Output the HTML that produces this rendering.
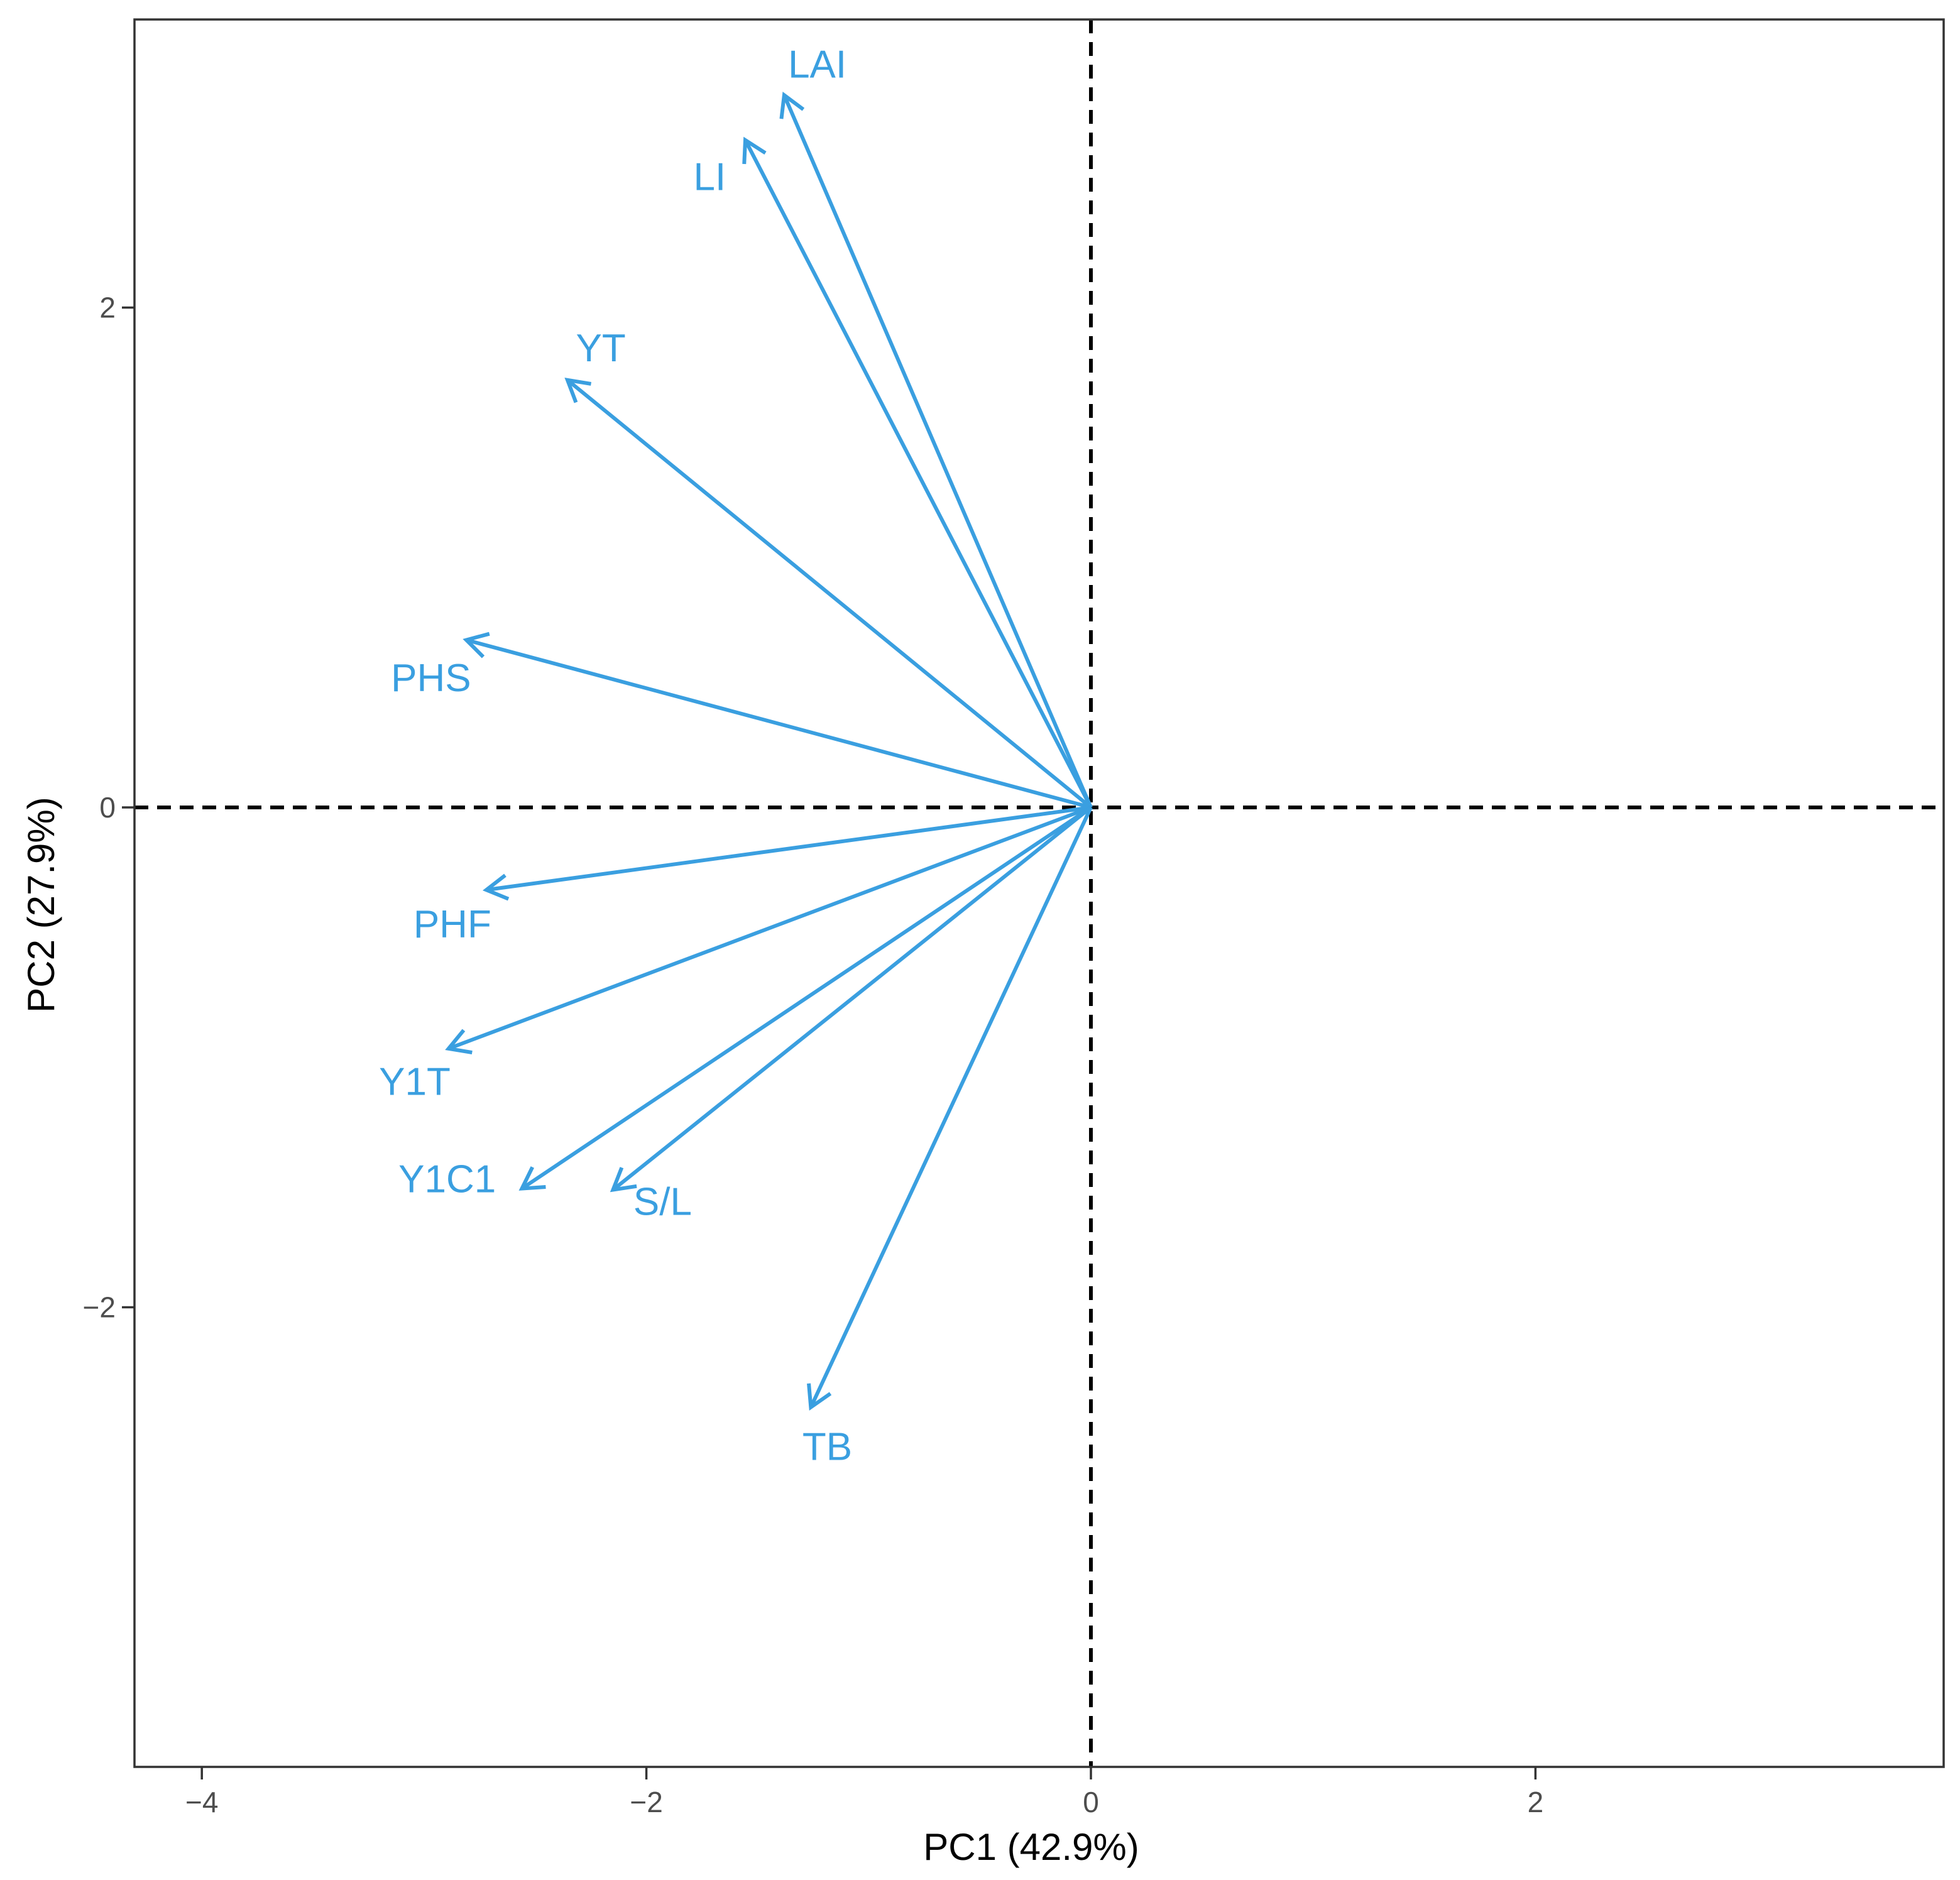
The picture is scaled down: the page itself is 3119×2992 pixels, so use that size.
<!DOCTYPE html>
<html><head><meta charset="utf-8"><style>
html,body{margin:0;padding:0;background:#fff}
svg{display:block}
text{font-family:"Liberation Sans",Arial,sans-serif}
</style></head><body>
<svg id="chart" width="3119" height="2992" viewBox="0 0 3119 2992" xmlns="http://www.w3.org/2000/svg">
<rect x="0" y="0" width="3119" height="2992" fill="#fff"/>
<g id="grid"></g>
<g id="marks"></g>
<rect x="214" y="31" width="2879" height="2781" fill="none" stroke="#333" stroke-width="3.5"/>
<g id="axes"></g>
<text x="1641" y="2960" font-size="60" text-anchor="middle" fill="#000">PC1 (42.9%)</text>
<text x="0" y="0" font-size="60" text-anchor="middle" fill="#000" transform="translate(86,1440) rotate(-90)">PC2 (27.9%)</text>
</svg>
<script>
const variables = ["LAI","LI","YT","PHS","PHF","Y1T","Y1C1","S/L","TB"];
const pc1 = [-1.38,-1.555,-2.355,-2.81,-2.72,-2.89,-2.56,-2.15,-1.26];
const pc2 = [2.85,2.67,1.71,0.67,-0.33,-0.965,-1.525,-1.53,-2.4];
const labelPc1 = [-1.231,-1.715,-2.205,-2.969,-2.873,-3.042,-2.896,-1.927,-1.186];
const labelPc2 = [2.975,2.525,1.84,0.52,-0.465,-1.095,-1.485,-1.575,-2.555];
const xTicks = [-4,-2,0,2];
const yTicks = [-2,0,2];

const NS="http://www.w3.org/2000/svg";
const L=214,R=3093,T=31,B=2812;
function sx(v){return 1736+v*353.7;}
function sy(v){return 1285-v*397.75;}
function mk(tag,attrs,parent){const e=document.createElementNS(NS,tag);for(const k in attrs)e.setAttribute(k,attrs[k]);parent.appendChild(e);return e;}
const grid=document.getElementById('grid'),marks=document.getElementById('marks'),axes=document.getElementById('axes');

let h=mk('line',{x1:L,x2:R,y1:sy(0),y2:sy(0),stroke:'#000','stroke-width':6,'stroke-dasharray':'22,14'},grid);


let v=mk('line',{x1:sx(0),x2:sx(0),y1:T,y2:B,stroke:'#000','stroke-width':6,'stroke-dasharray':'22,14'},grid);



const col='#3a9fe0';
for(let i=0;i<variables.length;i++){
  const x0=sx(0),y0=sy(0),x1=sx(pc1[i]),y1=sy(pc2[i]);
  const g=mk('g',{},marks);
  
  
  mk('line',{x1:x0,y1:y0,x2:x1,y2:y1,stroke:col,'stroke-width':6},g);
  const ang=Math.atan2(y1-y0,x1-x0),len=38,a=Math.PI/6;
  const p1=[x1-len*Math.cos(ang-a),y1-len*Math.sin(ang-a)];
  const p2=[x1-len*Math.cos(ang+a),y1-len*Math.sin(ang+a)];
  mk('polyline',{points:p1.join(',')+' '+x1+','+y1+' '+p2.join(','),fill:'none',stroke:col,'stroke-width':6},g);
  const t=mk('text',{x:sx(labelPc1[i]),y:sy(labelPc2[i])+22,'font-size':62,'text-anchor':'middle',fill:col},marks);
  t.textContent=variables[i];
  
  
}

xTicks.forEach(val=>{
  const tk=mk('line',{x1:sx(val),x2:sx(val),y1:B,y2:B+20,stroke:'#333','stroke-width':3.5},axes);
  
  
  const t=mk('text',{x:sx(val),y:B+72,'font-size':46,'text-anchor':'middle',fill:'#4d4d4d'},axes);
  t.textContent=val<0?'\u2212'+(-val):String(val);
  
  
});
yTicks.forEach(val=>{
  const tk=mk('line',{x1:L-20,x2:L,y1:sy(val),y2:sy(val),stroke:'#333','stroke-width':3.5},axes);
  
  
  const t=mk('text',{x:L-30,y:sy(val)+16,'font-size':46,'text-anchor':'end',fill:'#4d4d4d'},axes);
  t.textContent=val<0?'\u2212'+(-val):String(val);
  
  
});
</script>
</body></html>
